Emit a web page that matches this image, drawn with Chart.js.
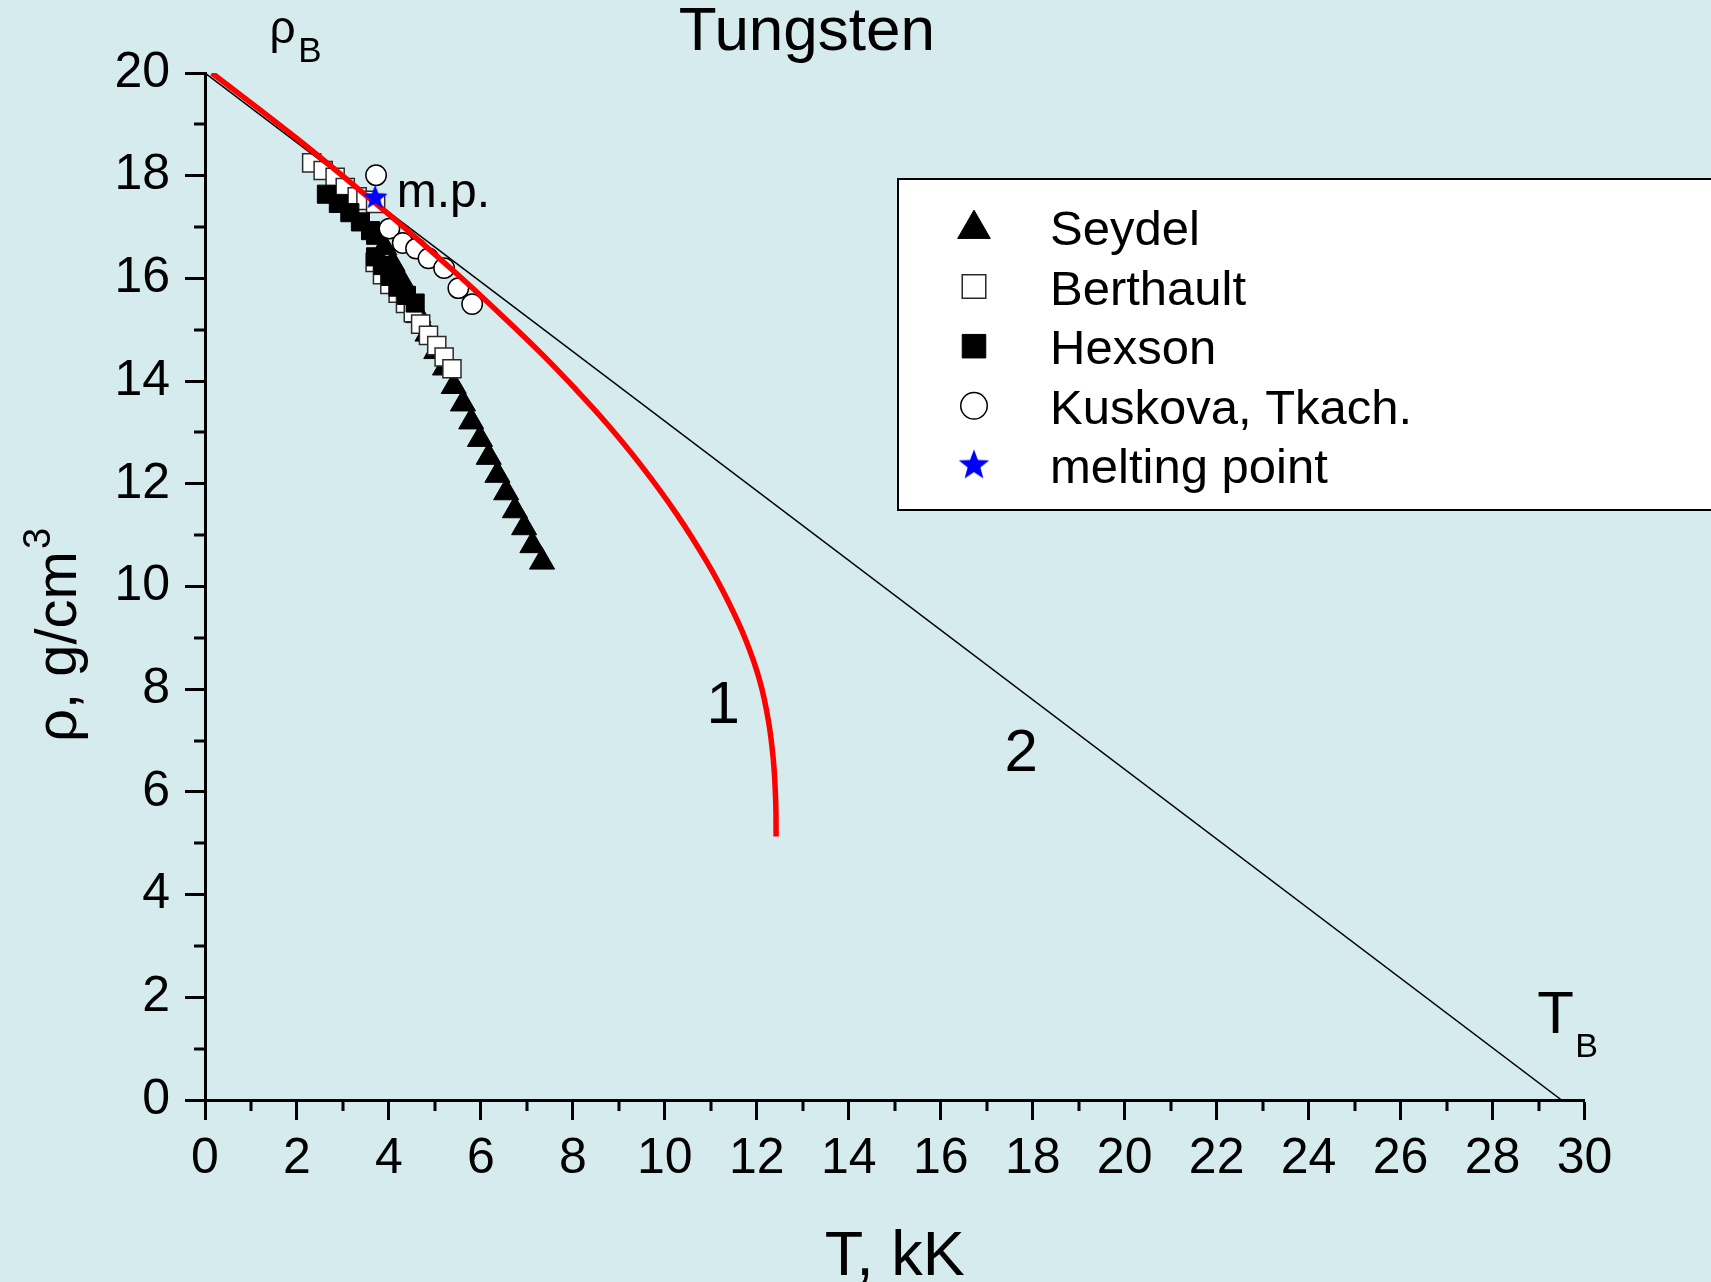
<!DOCTYPE html>
<html>
<head>
<meta charset="utf-8">
<title>Tungsten</title>
<script src="https://cdn.jsdelivr.net/npm/chart.js@4.4.1/dist/chart.umd.min.js"></script>
<style>
  html, body { margin: 0; padding: 0; background: #d5ebee; }
  #wrap { width: 1711px; height: 1282px; position: relative; }
</style>
</head>
<body>
<div id="wrap"><canvas id="c"></canvas></div>
<script>
// Density of tungsten (g/cm^3) versus temperature (kK)

// Seydel
const seydelT   = [3.90, 4.08, 4.27, 4.45, 4.64, 4.84, 5.03, 5.22, 5.41, 5.61, 5.79, 5.98, 6.17, 6.36, 6.55, 6.74, 6.94, 7.12, 7.33];
const seydelRho = [16.60, 16.28, 15.96, 15.62, 15.28, 14.92, 14.58, 14.26, 13.90, 13.56, 13.21, 12.87, 12.52, 12.17, 11.83, 11.48, 11.15, 10.80, 10.48];

// Berthault
const berthaultT   = [2.32, 2.57, 2.83, 3.05, 3.31, 3.50, 3.71, 3.70, 3.86, 4.02, 4.20, 4.36, 4.53, 4.69, 4.86, 5.04, 5.20, 5.37];
const berthaultRho = [18.25, 18.10, 17.97, 17.77, 17.59, 17.52, 17.46, 16.31, 16.07, 15.88, 15.71, 15.51, 15.33, 15.11, 14.89, 14.69, 14.47, 14.24];

// Hexson
const hexsonT   = [2.64, 2.90, 3.15, 3.38, 3.60, 3.71, 3.71, 3.87, 4.03, 4.20, 4.38, 4.57];
const hexsonRho = [17.64, 17.46, 17.28, 17.10, 16.93, 16.84, 16.42, 16.25, 16.04, 15.83, 15.67, 15.52];

// Kuskova, Tkach.
const kuskovaT   = [3.72, 4.01, 4.30, 4.59, 4.86, 5.20, 5.51, 5.81];
const kuskovaRho = [18.01, 16.97, 16.69, 16.58, 16.39, 16.20, 15.81, 15.50];

// melting point
const meltT   = [3.70];
const meltRho = [17.59];

// curve 1
const curve1T   = [0.15, 2.03, 3.70, 4.50, 5.50, 6.50, 7.30, 8.00, 8.75, 9.50, 10.25, 10.92, 11.36, 11.76, 12.06, 12.25, 12.36, 12.41, 12.42];
const curve1Rho = [20.00, 18.70, 17.47, 16.86, 16.07, 15.24, 14.55, 13.90, 13.16, 12.34, 11.42, 10.47, 9.74, 8.96, 8.18, 7.40, 6.62, 5.84, 5.13];

// line 2: from rho_B at T = 0 down to T_B at rho = 0
const line2T   = [0, 29.5];
const line2Rho = [20, 0];

// axes
const xRange = [0, 30];
const yRange = [0, 20];
const majorStep = 2;
const minorStep = 1;

// text written on the plot: [text, T, rho, font size, align]
const notes = [
  ['Tungsten', 13.09, 20.45, 62, 'center'],
  ['ρ', 1.40, 20.58, 46, 'left'],
  ['B', 2.03, 20.21, 35, 'left'],
  ['m.p.', 4.17, 17.40, 48, 'left'],
  ['1', 11.27, 7.34, 60, 'center'],
  ['2', 17.75, 6.41, 60, 'center'],
  ['T', 28.97, 1.30, 60, 'left'],
  ['B', 29.80, 0.84, 34, 'left'],
  ['T, kK', 15.0, -3.41, 63, 'center']
];

const FONT = "'Liberation Sans', Arial, Helvetica, sans-serif";

function pts(xs, ys) { return xs.map((v, i) => ({ x: v, y: ys[i] })); }

// filled five-pointed star used as a point style
function makeStar(size, color) {
  const c = document.createElement('canvas');
  c.width = size; c.height = size;
  const g = c.getContext('2d');
  const R = size / 2, r = R * 0.42;
  g.fillStyle = color;
  g.beginPath();
  for (let i = 0; i < 10; i++) {
    const a = -Math.PI / 2 + i * Math.PI / 5;
    const rr = i % 2 === 0 ? R : r;
    const px = R + rr * Math.cos(a), py = R + 1 + rr * Math.sin(a);
    i === 0 ? g.moveTo(px, py) : g.lineTo(px, py);
  }
  g.closePath();
  g.fill();
  return c;
}
const starImg = makeStar(26, '#0000ff');
const starImgBig = makeStar(32, '#0000ff');

const bgPlugin = {
  id: 'bg',
  beforeDraw(chart) {
    const { ctx, width, height } = chart;
    ctx.save();
    ctx.fillStyle = '#d5ebee';
    ctx.fillRect(0, 0, width, height);
    ctx.restore();
  }
};

const minorTicksPlugin = {
  id: 'minorTicks',
  afterDraw(chart) {
    const { ctx, chartArea, scales: { x, y } } = chart;
    ctx.save();
    ctx.strokeStyle = '#000';
    ctx.lineWidth = 3;
    ctx.beginPath();
    for (let v = xRange[0] + minorStep; v < xRange[1]; v += majorStep) {
      const px = Math.round(x.getPixelForValue(v));
      ctx.moveTo(px, chartArea.bottom);
      ctx.lineTo(px, chartArea.bottom + 11);
    }
    for (let v = yRange[0] + minorStep; v < yRange[1]; v += majorStep) {
      const py = Math.round(y.getPixelForValue(v));
      ctx.moveTo(chartArea.left, py);
      ctx.lineTo(chartArea.left - 11, py);
    }
    ctx.stroke();
    ctx.restore();
  }
};

const notesPlugin = {
  id: 'notes',
  afterDraw(chart) {
    const { ctx, scales: { x, y } } = chart;
    ctx.save();
    ctx.fillStyle = '#000';
    ctx.textBaseline = 'alphabetic';
    notes.forEach(([text, tv, rv, size, align]) => {
      ctx.font = size + 'px ' + FONT;
      ctx.textAlign = align;
      ctx.fillText(text, x.getPixelForValue(tv), y.getPixelForValue(rv));
    });
    // vertical axis title with raised exponent
    ctx.translate(76, 742);
    ctx.rotate(-Math.PI / 2);
    ctx.textAlign = 'left';
    ctx.font = '58px ' + FONT;
    const main = 'ρ, g/cm';
    ctx.fillText(main, 0, 0);
    const w = ctx.measureText(main).width;
    ctx.font = '38px ' + FONT;
    ctx.fillText('3', w + 2, -26);
    ctx.restore();
  }
};

const legendPlugin = {
  id: 'boxLegend',
  afterDraw(chart) {
    const { ctx } = chart;
    const box = { left: 898, top: 179, right: 1730, bottom: 510 };
    ctx.save();
    ctx.fillStyle = '#ffffff';
    ctx.fillRect(box.left, box.top, box.right - box.left, box.bottom - box.top);
    ctx.strokeStyle = '#000';
    ctx.lineWidth = 2;
    ctx.strokeRect(box.left, box.top, box.right - box.left, box.bottom - box.top);

    const items = chart.data.datasets.filter(d => !d.showLine);
    items.forEach((d, i) => {
      const cy = 227 + i * 59.6;
      const cx = 974;
      if (d.pointStyle instanceof HTMLCanvasElement) {
        ctx.drawImage(starImgBig, cx - 16, cy - 17);
      } else {
        ctx.fillStyle = d.backgroundColor;
        ctx.strokeStyle = d.borderColor;
        ctx.lineWidth = d.borderWidth;
        Chart.helpers.drawPoint(ctx, {
          pointStyle: d.pointStyle,
          radius: d.pointRadius * 1.3,
          borderWidth: d.borderWidth,
          rotation: 0
        }, cx, cy + (d.pointStyle === 'triangle' ? 2 : 0));
      }
      ctx.fillStyle = '#000';
      ctx.font = '49px ' + FONT;
      ctx.textAlign = 'left';
      ctx.textBaseline = 'alphabetic';
      ctx.fillText(d.label, 1050, cy + 18);
    });
    ctx.restore();
  }
};

const axisCommon = {
  type: 'linear',
  grid: {
    display: true,
    drawOnChartArea: false,
    drawTicks: true,
    tickLength: 20,
    tickWidth: 3,
    tickColor: '#000'
  },
  border: { display: true, color: '#000', width: 3 },
  title: { display: false }
};

new Chart(document.getElementById('c'), {
  type: 'scatter',
  data: {
    datasets: [
      {
        label: 'Seydel', data: pts(seydelT, seydelRho), showLine: false,
        pointStyle: 'triangle', pointRadius: 14.5, borderWidth: 1,
        backgroundColor: '#000000', borderColor: '#000000', order: 6
      },
      {
        label: 'Berthault', data: pts(berthaultT, berthaultRho), showLine: false,
        pointStyle: 'rect', pointRadius: 12.8, borderWidth: 1.5,
        backgroundColor: '#ffffff', borderColor: '#2a2a2a', order: 5
      },
      {
        label: 'Hexson', data: pts(hexsonT, hexsonRho), showLine: false,
        pointStyle: 'rect', pointRadius: 12.8, borderWidth: 1,
        backgroundColor: '#000000', borderColor: '#000000', order: 4
      },
      {
        label: 'Kuskova, Tkach.', data: pts(kuskovaT, kuskovaRho), showLine: false,
        pointStyle: 'circle', pointRadius: 10.2, borderWidth: 1.5,
        backgroundColor: '#ffffff', borderColor: '#000000', order: 3
      },
      {
        label: 'melting point', data: pts(meltT, meltRho), showLine: false,
        pointStyle: starImg, pointRadius: 12,
        backgroundColor: '#0000ff', borderColor: '#0000ff', order: 0
      },
      {
        label: '1', data: pts(curve1T, curve1Rho), showLine: true,
        borderColor: '#ff0000', borderWidth: 5.5, pointRadius: 0,
        tension: 0.4, fill: false, order: 1
      },
      {
        label: '2', data: pts(line2T, line2Rho), showLine: true,
        borderColor: '#000000', borderWidth: 1.5, pointRadius: 0,
        fill: false, order: 2
      }
    ]
  },
  options: {
    responsive: true,
    maintainAspectRatio: false,
    devicePixelRatio: 1,
    animation: false,
    events: [],
    layout: { padding: { top: 73, right: 126.5, left: 0, bottom: 0 } },
    plugins: {
      legend: { display: false },
      tooltip: { enabled: false },
      title: { display: false }
    },
    scales: {
      x: Object.assign({}, axisCommon, {
        min: xRange[0], max: xRange[1],
        ticks: { stepSize: majorStep, color: '#000', padding: 9, maxRotation: 0,
                 font: { family: FONT, size: 50 } },
        afterFit(scale) { scale.height = 182; }
      }),
      y: Object.assign({}, axisCommon, {
        min: yRange[0], max: yRange[1],
        ticks: { stepSize: majorStep, color: '#000', padding: 15,
                 font: { family: FONT, size: 50 } },
        afterFit(scale) { scale.width = 205; }
      })
    }
  },
  plugins: [bgPlugin, minorTicksPlugin, notesPlugin, legendPlugin]
});
</script>
</body>
</html>
